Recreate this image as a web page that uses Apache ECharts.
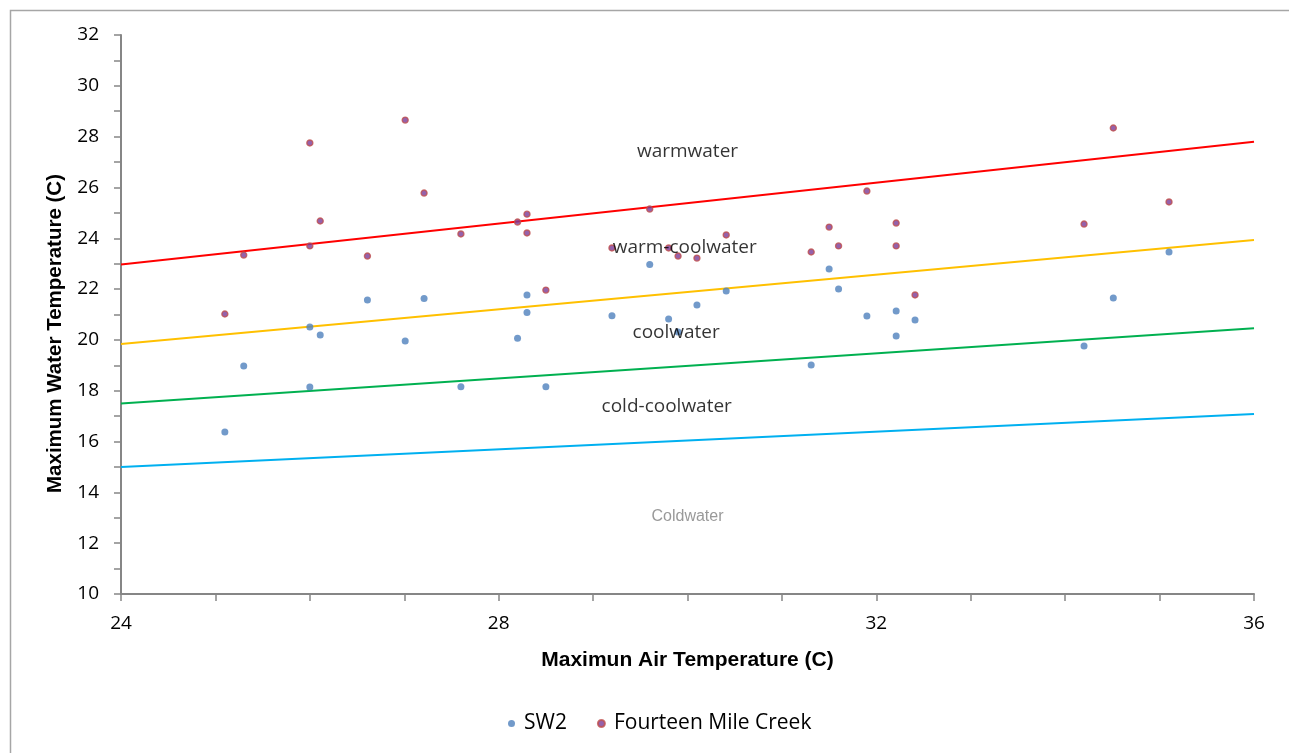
<!DOCTYPE html>
<html>
<head>
<meta charset="utf-8">
<script src="https://cdn.jsdelivr.net/npm/echarts@6/dist/echarts.min.js"></script>
<style>
html, body { margin: 0; padding: 0; background: #fff; }
#chart { width: 1289px; height: 753px; }
</style>
</head>
<body>
<div id="chart"></div>
<script>
// SW2 points [air temp, water temp]
const sw2 = [
  [25.10, 16.38], [25.30, 18.97], [26.00, 20.51], [26.00, 18.15], [26.11, 20.19],
  [26.61, 21.57], [27.01, 19.96], [27.21, 21.63], [27.60, 18.16], [28.20, 20.07],
  [28.30, 21.77], [28.30, 21.08], [28.50, 18.16], [29.20, 20.95], [29.60, 22.97],
  [29.80, 20.82], [29.90, 20.31], [30.10, 21.37], [30.41, 21.92], [31.31, 19.01],
  [31.50, 22.79], [31.60, 22.00], [31.90, 20.94], [32.21, 21.14], [32.21, 20.15],
  [32.41, 20.78], [34.20, 19.76], [34.51, 21.65], [35.10, 23.46]
];
// Fourteen Mile Creek points
const fourteenMile = [
  [25.10, 21.02], [25.30, 23.34], [26.00, 27.75], [26.00, 23.70], [26.11, 24.68],
  [26.61, 23.30], [27.01, 28.65], [27.21, 25.78], [27.60, 24.17], [28.20, 24.64],
  [28.30, 24.95], [28.30, 24.21], [28.50, 21.96], [29.20, 23.62], [29.60, 25.15],
  [29.80, 23.62], [29.90, 23.30], [30.10, 23.22], [30.41, 24.13], [31.31, 23.46],
  [31.50, 24.44], [31.60, 23.70], [31.90, 25.86], [32.21, 24.60], [32.21, 23.70],
  [32.41, 21.77], [34.20, 24.56], [34.51, 28.34], [35.10, 25.43]
];
// threshold lines: [start at 24, end at 36]
const warmLine = [[24, 22.97], [36, 27.8]];
const warmCoolLine = [[24, 19.84], [36, 23.93]];
const coolLine = [[24, 17.5], [36, 20.46]];
const coldLine = [[24, 15.0], [36, 17.08]];
// zone labels [x, y, text]
const zoneLabels = [
  [30.0, 27.43, 'warmwater'],
  [29.97, 23.62, 'warm-coolwater'],
  [29.88, 20.27, 'coolwater'],
  [29.78, 17.36, 'cold-coolwater'],
  [30.0, 13.03, 'Coldwater']
];

const font = 'Open Sans, Noto Sans, sans-serif';
const boldFont = 'Liberation Sans, Arial, sans-serif';
const chart = echarts.init(document.getElementById('chart'));

function line(data, color) {
  return {
    type: 'line', data: data, symbol: 'none', silent: true,
    lineStyle: { color: color, width: 2 }, z: 1
  };
}

const option = {
  animation: false,
  textStyle: { fontFamily: font },
  graphic: [{
    type: 'rect', left: 8, top: 8,
    shape: { width: 1300, height: 760 },
    style: { fill: 'none', stroke: '#a6a6a6', lineWidth: 1.5 }
  }],
  grid: { left: 121, right: 35, top: 35, bottom: 159 },
  legend: {
    data: ['SW2', 'Fourteen Mile Creek'],
    bottom: 14, left: 503, itemGap: 30,
    itemWidth: 7, itemHeight: 7,
    textStyle: { fontSize: 21, color: '#000', fontFamily: font, padding: [0, 0, 0, 4] }
  },
  xAxis: {
    type: 'value', min: 24, max: 36, interval: 1,
    name: 'Maximun Air Temperature (C)', nameLocation: 'middle', nameGap: 56,
    nameTextStyle: { fontSize: 21, fontWeight: 'bold', color: '#000', fontFamily: boldFont },
    axisLine: { lineStyle: { color: '#868686', width: 2 } },
    axisTick: { show: true, length: 7, lineStyle: { color: '#868686', width: 1.5 } },
    axisLabel: {
      fontSize: 19, color: '#000', margin: 20,
      formatter: v => (v % 4 === 0 ? String(v) : '')
    },
    splitLine: { show: false }
  },
  yAxis: {
    type: 'value', min: 10, max: 32, interval: 1,
    name: 'Maximum Water Temperature (C)', nameLocation: 'middle', nameGap: 55,
    nameTextStyle: { fontSize: 20.5, fontWeight: 'bold', color: '#000', fontFamily: boldFont, padding: [0, 0, 0, -38] },
    axisLine: { show: true, lineStyle: { color: '#868686', width: 2 } },
    axisTick: { show: true, length: 7, lineStyle: { color: '#868686', width: 1.5 } },
    axisLabel: {
      fontSize: 19, color: '#000', margin: 22,
      formatter: v => (v % 2 === 0 ? String(v) : '')
    },
    splitLine: { show: false }
  },
  series: [
    line(warmLine, '#ff0000'),
    line(warmCoolLine, '#ffc000'),
    line(coolLine, '#00b050'),
    line(coldLine, '#00b0f0'),
    {
      name: 'SW2', type: 'scatter', data: sw2, symbolSize: 7,
      itemStyle: { color: '#4f81bd' }, z: 3
    },
    {
      name: 'Fourteen Mile Creek', type: 'scatter', data: fourteenMile, symbolSize: 6,
      itemStyle: { color: '#7b3a96', borderColor: '#c0504d', borderWidth: 1.4 }, z: 3
    },
    {
      type: 'scatter', silent: true, symbolSize: 0, z: 5,
      data: zoneLabels.map(d => ({
        value: [d[0], d[1]],
        label: {
          show: true, position: 'inside', formatter: d[2],
          fontSize: d[2] === 'Coldwater' ? 16 : 19,
          fontFamily: d[2] === 'Coldwater' ? boldFont : font,
          color: d[2] === 'Coldwater' ? '#808080' : '#000'
        }
      }))
    }
  ]
};

chart.setOption(option);
</script>
</body>
</html>
